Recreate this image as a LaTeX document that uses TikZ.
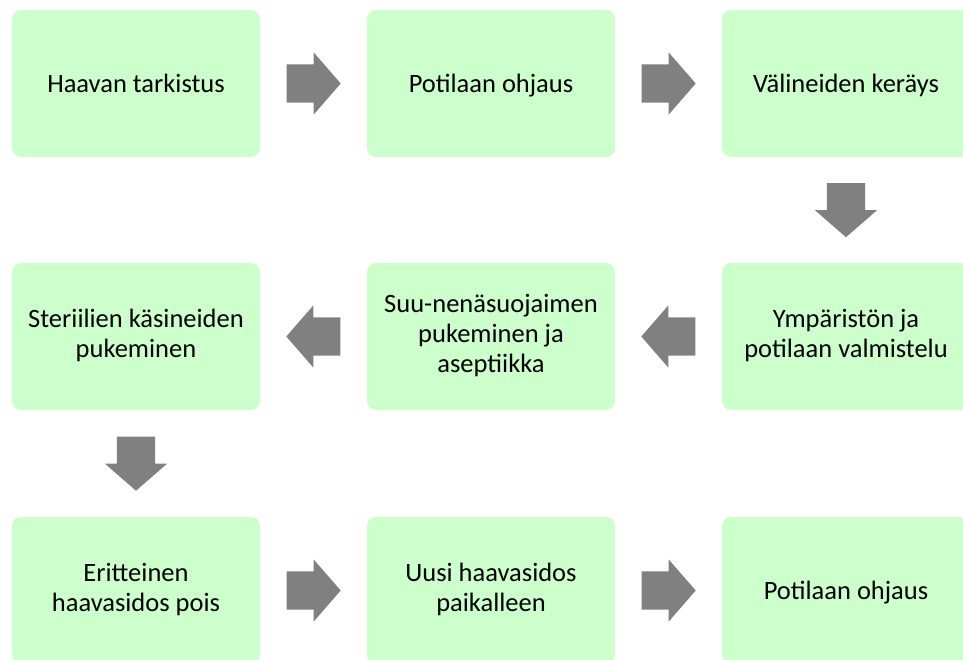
\documentclass[tikz,border=0pt]{standalone}
\usepackage{fontspec}
\setmainfont{Carlito}
\usepackage{tikz}
\usetikzlibrary{calc,shapes.arrows}
\definecolor{vaaleaVihrea}{HTML}{CCFFCC}
\definecolor{nuoliHarmaa}{HTML}{808080}

\begin{document}
\begin{tikzpicture}[x=1pt, y=-1pt,
  every node/.style={font=\fontsize{26.5}{30}\selectfont},
  laatikko/.style={fill=vaaleaVihrea,draw=none,rounded corners=9pt,
               minimum width=248pt,minimum height=147pt,align=center,inner sep=0pt,
               execute at begin node={\rule{0pt}{24pt}},
               execute at end node={\rule[-6pt]{0pt}{6pt}}},
  nuoli/.style={single arrow,fill=nuoliHarmaa,draw=none,inner xsep=0pt,inner ysep=19pt,
               minimum height=54pt,anchor=tail,
               single arrow head extend=12pt,single arrow tip angle=98}]
\useasboundingbox (0,0) rectangle (963,659);
\clip (0,0) rectangle (963,659);
\node[laatikko] (a) at (136,83.5) {Haavan tarkistus};
\node[laatikko] (b) at (491,83.5) {Potilaan ohjaus};
\node[laatikko] (c) at (846,83.5) {Välineiden keräys};
\node[laatikko] (d) at (846,336.5) {Ympäristön ja\\potilaan valmistelu};
\node[laatikko] (e) at (491,336.5) {Suu-nenäsuojaimen\\pukeminen ja\\aseptiikka};
\node[laatikko] (f) at (136,336.5) {Steriilien käsineiden\\pukeminen};
\node[laatikko] (g) at (136,590.5) {Eritteinen\\haavasidos pois};
\node[laatikko] (h) at (491,590.5) {Uusi haavasidos\\paikalleen};
\node[laatikko] (i) at (846,590.5) {Potilaan ohjaus};
\foreach \x/\y/\k in {a/b/0, b/c/0, c/d/270, d/e/180, e/f/180, f/g/270, g/h/0, h/i/0}
  \node[nuoli,rotate=\k] (n\x\y) at ($(\x)!0.5!(\y)!27pt!(\x)$) {};
\end{tikzpicture}
\end{document}
